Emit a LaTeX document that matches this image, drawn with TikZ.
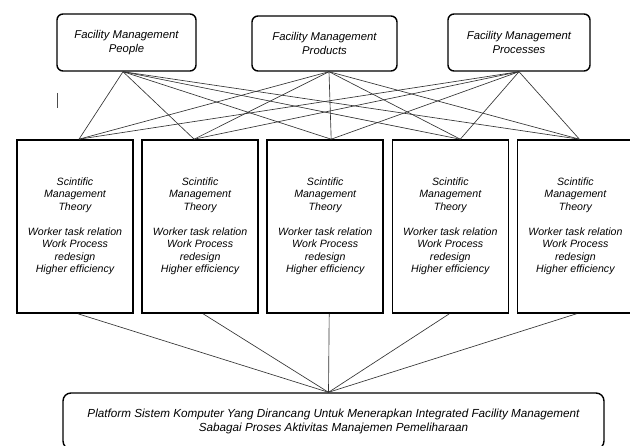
\documentclass[tikz,border=0pt]{standalone}
\usepackage{fontspec}
\setmainfont{Liberation Sans}
\usetikzlibrary{chains,positioning}

\newcommand{\smtlines}{Scintific\\Management\\Theory\\[12.5pt]Worker task relation\\Work Process\\redesign\\Higher efficiency}

\begin{document}
\begin{tikzpicture}[
x=1pt,y=-1pt,
fm/.style={
  draw,
  rounded corners=6pt,
  line width=1.4pt,
  align=center,
  inner sep=2pt,
  minimum height=57pt,
  font=\itshape\fontsize{11.3}{14}\selectfont
},
smt/.style={
  draw,
  line width=1.6pt,
  align=center,
  inner sep=2pt,
  minimum width=116pt,
  minimum height=173pt,
  font=\itshape\fontsize{10.6}{12.5}\selectfont
},
plat/.style={
  draw,
  rounded corners=8pt,
  line width=1.4pt,
  align=center,
  inner sep=2pt,
  minimum width=541pt,
  minimum height=56pt,
  font=\itshape\fontsize{11.7}{14}\selectfont
},
link/.style={
  black!80,
  line width=0.65pt
}
]
\clip (0,0) rectangle (630,446);
\fill[white] (0,0) rectangle (630,446);

\node[fm,minimum width=139pt] (ppl) at (126.5,42.5)
  {Facility Management\\People};
\node[fm,minimum width=145pt,minimum height=55pt] (prod) at (324.5,43.5)
  {Facility Management\\Products};
\node[fm,minimum width=142pt] (proc) at (519,42.5)
  {Facility Management\\Processes};

\begin{scope}[start chain=1 going right,node distance=7.5pt]
\node[on chain=1,smt] (m1) at (75,226.5) {\smtlines};
\foreach \i in {2,...,5}
  \node[on chain=1,smt] (m\i) {\smtlines};
\end{scope}

\node[plat] (plat) at (333.5,421)
  {Platform Sistem Komputer Yang Dirancang Untuk Menerapkan Integrated Facility Management\\Sabagai Proses Aktivitas Manajemen Pemeliharaan};

\foreach \t/\ts in {ppl/-3.5,prod/4.5,proc/0}
  \foreach \m/\ms in {m1/4,m2/-6,m3/6,m4/10,m5/4}
    \draw[link] ([xshift=\ts]\t.south) -- ([xshift=\ms]\m.north);

\foreach \m/\ms in {m1/3,m2/3,m3/4,m4/-1,m5/1}
  \draw[link] ([xshift=\ms]\m.south) -- ([xshift=-5]plat.north);

\draw[line width=0.8pt,black!70] (57,93) -- (57,108);
\end{tikzpicture}
\end{document}
